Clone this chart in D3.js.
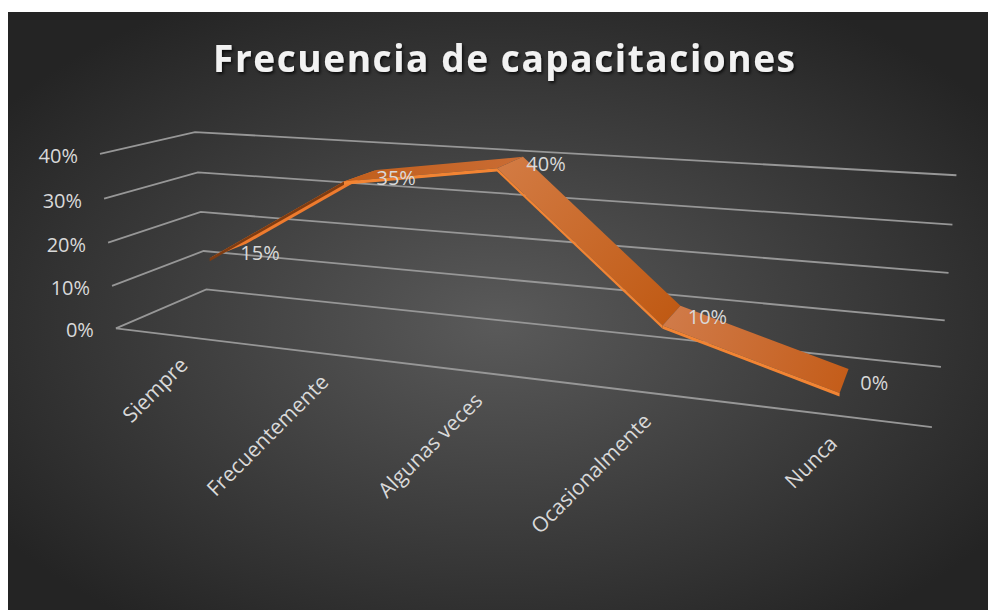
<!DOCTYPE html>
<html><head><meta charset="utf-8">
<script src="https://cdn.jsdelivr.net/npm/d3@7"></script>
<style>html,body{margin:0;padding:0;background:#fff;} svg{display:block;}</style>
</head><body><svg id="c" width="989" height="610"></svg>
<script>
// ---------------- data ----------------
const categories = ["Siempre", "Frecuentemente", "Algunas veces", "Ocasionalmente", "Nunca"];
const values = [0.15, 0.35, 0.40, 0.10, 0.00];
const valueTicks = [0, 0.1, 0.2, 0.3, 0.4];
const titleText = "Frecuencia de capacitaciones";

// ---------------- layout / camera calibration ----------------
// reference screen positions of the 3D plot box corners (u: category axis, v: value axis, w: depth)
const calib = [
  [0,0,0,116,328],[0,0.25,0,112,285.7],[0,0.5,0,108,243],[0,0.75,0,104,199],[0,1,0,100,154],
  [0,0,1,206,290],[0,0.25,1,204,250.7],[0,0.5,1,201,211.7],[0,0.75,1,197.7,172.3],[0,1,1,195,132],
  [1,0,1,941,367],[1,0.25,1,945,321],[1,0.5,1,948,272],[1,0.75,1,952,224],[1,1,1,957,176],
  [1,0,0,932,427]
];
function fitCamera(pts){
  const A=[],b=[];
  for(const [X,Y,Z,x,y] of pts){
    A.push([X,Y,Z,1,0,0,0,0,-x*X,-x*Y,-x*Z]); b.push(x);
    A.push([0,0,0,0,X,Y,Z,1,-y*X,-y*Y,-y*Z]); b.push(y);
  }
  const n=11, M=[...Array(n)].map(()=>new Array(n+1).fill(0));
  for(let r=0;r<A.length;r++){
    for(let i=0;i<n;i++){
      for(let j=0;j<n;j++) M[i][j]+=A[r][i]*A[r][j];
      M[i][n]+=A[r][i]*b[r];
    }
  }
  for(let i=0;i<n;i++){
    let p=i; for(let k=i+1;k<n;k++) if(Math.abs(M[k][i])>Math.abs(M[p][i])) p=k;
    [M[i],M[p]]=[M[p],M[i]];
    for(let k=0;k<n;k++){ if(k===i) continue; const f=M[k][i]/M[i][i]; for(let j=i;j<=n;j++) M[k][j]-=f*M[i][j]; }
  }
  const p=M.map((row,i)=>row[n]/row[i]);
  return (X,Y,Z)=>{const d=p[8]*X+p[9]*Y+p[10]*Z+1; return [(p[0]*X+p[1]*Y+p[2]*Z+p[3])/d,(p[4]*X+p[5]*Y+p[6]*Z+p[7])/d];};
}
const proj = fitCamera(calib);

const svg = d3.select("#c");
const defs = svg.append("defs");

const bg = defs.append("radialGradient").attr("id","bg").attr("cx","50%").attr("cy","52%").attr("r","62%");
bg.append("stop").attr("offset","0%").attr("stop-color","#5a5a5a");
bg.append("stop").attr("offset","100%").attr("stop-color","#242424");
const sh = defs.append("filter").attr("id","tshadow").attr("x","-10%").attr("y","-30%").attr("width","120%").attr("height","160%");
sh.append("feDropShadow").attr("dx",1.5).attr("dy",2).attr("stdDeviation",1.8).attr("flood-color","#000").attr("flood-opacity",0.75);

svg.append("rect").attr("x",8).attr("y",12).attr("width",980).attr("height",598).attr("fill","url(#bg)");

// scales
const xBand = d3.scaleBand().domain(categories).range([0,1]).paddingInner(0).paddingOuter(0);
const uOf = c => xBand(c) + xBand.bandwidth()/2;
const vScale = d3.scaleLinear().domain([0,0.4]).range([0,1]);
const fmt = d3.format(".0%");

// title
svg.append("text").attr("x",213).attr("y",72)
  .attr("textLength",582).attr("lengthAdjust","spacing")
  .attr("font-family","'Open Sans', sans-serif").attr("font-weight",700).attr("font-size",37)
  .attr("fill","#f2f2f2").attr("filter","url(#tshadow)").text(titleText);

// gridlines (left wall + back wall) and floor front edge
const gridG = svg.append("g").attr("fill","none").attr("stroke","#979797").attr("stroke-width",1.8);
const line = d3.line();
valueTicks.forEach(t=>{
  const v=vScale(t);
  gridG.append("path").attr("d", line([proj(0,v,0),proj(0,v,1),proj(1,v,1)]));
});
gridG.append("path").attr("d", line([proj(0,0,0),proj(1,0,0)]));

// value axis labels
valueTicks.forEach(t=>{
  const [x,y]=proj(0,vScale(t),0);
  svg.append("text").attr("x",x-22).attr("y",y+9).attr("text-anchor","end")
    .attr("font-family","'Open Sans', sans-serif").attr("font-size",20).attr("fill","#d9d9d9").text(fmt(t));
});

// category labels
categories.forEach(c=>{
  const [x,y]=proj(uOf(c),0,0);
  svg.append("text").attr("transform",`translate(${x+7},${y+30}) rotate(-45)`).attr("text-anchor","end")
    .attr("font-family","'Open Sans', sans-serif").attr("font-size",21).attr("fill","#d9d9d9").text(c);
});

// ribbon
const w0=0.35, w1=0.78, thick=0.017;
const segTop = [["#ee7b2e","#ee7b2e"],["#c2601e","#c96b32"],["#d27a42","#c05a14"],["#d07a48","#c45d1a"]];
const segFront = ["#7e3c12","#f28433","#f28433","#f28433"];
const ribbon = svg.append("g");
const fronts = [];
for(let i=0;i<values.length-1;i++){
  const ua=uOf(categories[i]), ub=uOf(categories[i+1]);
  const va=vScale(values[i]), vb=vScale(values[i+1]);
  const a=proj(ua,va,(w0+w1)/2), b=proj(ub,vb,(w0+w1)/2);
  const gid="sg"+i;
  const g=defs.append("linearGradient").attr("id",gid).attr("gradientUnits","userSpaceOnUse")
    .attr("x1",a[0]).attr("y1",a[1]).attr("x2",b[0]).attr("y2",b[1]);
  g.append("stop").attr("offset","0%").attr("stop-color",segTop[i][0]);
  g.append("stop").attr("offset","100%").attr("stop-color",segTop[i][1]);
  // top face
  ribbon.append("path").attr("d", line([proj(ua,va,w0),proj(ua,va,w1),proj(ub,vb,w1),proj(ub,vb,w0)])+"Z")
    .attr("fill","url(#"+gid+")");
  fronts.push({d: line([proj(ua,va,w0),proj(ub,vb,w0),proj(ub,vb-thick,w0),proj(ua,va-thick,w0)])+"Z", fill: segFront[i]});
}
// front (thickness) faces
fronts.forEach(f=>ribbon.append("path").attr("d",f.d).attr("fill",f.fill));

// data labels
values.forEach((val,i)=>{
  const [x,y]=proj(uOf(categories[i]),vScale(val),(w0+w1)/2);
  svg.append("text").attr("x",x+(i===0?12:16)).attr("y",y+9)
    .attr("font-family","'Open Sans', sans-serif").attr("font-size",20).attr("fill","#d9d9d9").text(fmt(val));
});
</script>
</body></html>
